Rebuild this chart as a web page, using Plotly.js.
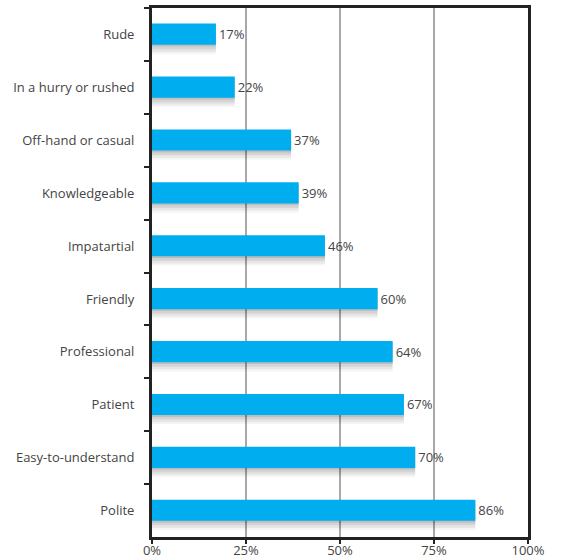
<!DOCTYPE html>
<html>
<head>
<meta charset="utf-8">
<script src="https://cdn.plot.ly/plotly-3.0.1.min.js"></script>
<style>html,body{margin:0;padding:0;background:#fff;}#chart{width:565px;height:558px;}</style>
</head>
<body>
<div id="chart"></div>
<script>
var categories = ["Rude","In a hurry or rushed","Off-hand or casual","Knowledgeable","Impatartial","Friendly","Professional","Patient","Easy-to-understand","Polite"];
var values = [17,22,37,39,46,60,64,67,70,86];
var tickVals = [0,25,50,75,100];
var tickText = ["0%","25%","50%","75%","100%"];

var barColor = "#00AEEF";
var textColor = "#444444";
var fontFam = "'Open Sans', 'Noto Sans', sans-serif";

var traces = [];
// soft drop shadow layers
var shadowLayers = [
  {offset:-0.17, width:0.54, op:0.04},
  {offset:-0.17, width:0.50, op:0.06},
  {offset:-0.18, width:0.46, op:0.08},
  {offset:-0.19, width:0.42, op:0.10}
];
shadowLayers.forEach(function(s){
  traces.push({
    type:"bar", orientation:"h", y:categories, x:values,
    offset:s.offset, width:s.width,
    marker:{color:"rgba(0,0,0,"+s.op+")", line:{width:0}},
    hoverinfo:"skip", showlegend:false
  });
});
traces.push({
  type:"bar", orientation:"h", y:categories, x:values,
  offset:-0.205, width:0.40,
  marker:{color:barColor, line:{width:0}},
  text: values.map(function(v){return v+"%";}),
  textposition:"outside",
  textfont:{family:fontFam, size:13, color:textColor},
  cliponaxis:false, showlegend:false
});

var layout = {
  width:565, height:558,
  margin:{l:152, r:37, t:8, b:21},
  paper_bgcolor:"#ffffff", plot_bgcolor:"#ffffff",
  barmode:"overlay",
  showlegend:false,
  font:{family:fontFam, size:13, color:textColor},
  xaxis:{
    range:[0,100], tickvals:tickVals, ticktext:tickText,
    showgrid:true, gridcolor:"#a8a8a8", gridwidth:2,
    showline:true, linecolor:"#222222", linewidth:3, mirror:true,
    ticks:"outside", ticklen:4, tickcolor:"#222222", tickwidth:2,
    ticklabelstandoff:-5,
    zeroline:false, fixedrange:true,
    tickfont:{family:fontFam, size:13, color:textColor}
  },
  yaxis:{
    type:"category", autorange:"reversed",
    showgrid:false, zeroline:false,
    showline:true, linecolor:"#222222", linewidth:3, mirror:true,
    ticks:"outside", tickson:"boundaries", ticklen:5, tickcolor:"#222222", tickwidth:2,
    ticklabelstandoff:12,
    tickfont:{family:fontFam, size:13, color:textColor}
  }
};
Plotly.newPlot("chart", traces, layout, {displayModeBar:false, staticPlot:true});
</script>
</body>
</html>
